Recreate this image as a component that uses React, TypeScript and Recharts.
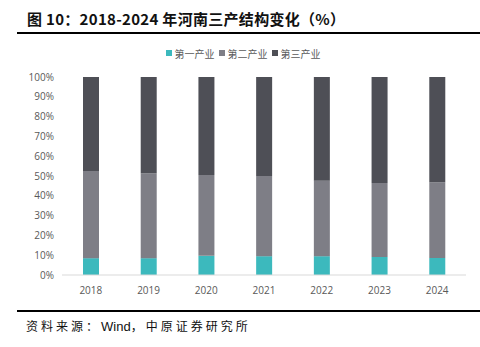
import React from 'react';
import { BarChart, Bar, XAxis, YAxis, Legend } from 'recharts';

const YEARS = ['2018', '2019', '2020', '2021', '2022', '2023', '2024'];
const PRIMARY = [8.5, 8.5, 9.7, 9.5, 9.5, 9.1, 8.6];
const SECONDARY = [44.0, 42.9, 40.8, 40.5, 38.1, 37.4, 38.2];
const TERTIARY = [47.5, 48.6, 49.5, 50.0, 52.4, 53.5, 53.2];
const Y_TICKS = [0, 10, 20, 30, 40, 50, 60, 70, 80, 90, 100];

const SERIES = [
  { key: 'primary', name: '第一产业', color: '#3cb9bd' },
  { key: 'secondary', name: '第二产业', color: '#7e7e86' },
  { key: 'tertiary', name: '第三产业', color: '#4e4f56' },
];

const data = YEARS.map((year, i) => ({
  year,
  primary: PRIMARY[i],
  secondary: SECONDARY[i],
  tertiary: TERTIARY[i],
}));

const tickStyle = { fontSize: 10, fill: '#595959', fontFamily: '"Open Sans", sans-serif' };

function LegendContent() {
  return (
    <div style={{ height: 16, display: 'flex', justifyContent: 'center', alignItems: 'center', gap: 4, paddingLeft: 20 }}>
      {SERIES.map((s) => (
        <span key={s.key} style={{ display: 'flex', alignItems: 'center', fontSize: 10, color: '#595959', fontFamily: '"Noto Sans CJK SC", sans-serif' }}>
          <span style={{ width: 6, height: 6, background: s.color, marginRight: 3, display: 'inline-block' }} />
          {s.name}
        </span>
      ))}
    </div>
  );
}

export default function App() {
  return (
    <div style={{ position: 'absolute', left: 0, top: 0, width: 480, height: 347, background: '#fff', overflow: 'hidden' }}>
      <div style={{ position: 'absolute', left: 27, top: 8, fontSize: 15, fontWeight: 'bold', color: '#111', letterSpacing: 0.3, fontFamily: '"Noto Sans CJK SC", sans-serif', whiteSpace: 'nowrap' }}>
        图 10：2018-2024 年河南三产结构变化（%）
      </div>
      <div style={{ position: 'absolute', left: 17, top: 32, width: 463, height: 2, background: '#000' }} />
      <BarChart width={480} height={347} data={data} margin={{ top: 61, right: 14, left: 0, bottom: 42 }}>
        <Legend verticalAlign="top" content={<LegendContent />} wrapperStyle={{ top: 45 }} />
        <XAxis dataKey="year" tick={tickStyle} tickLine={false} axisLine={{ stroke: '#d9d9d9' }} tickMargin={6} />
        <YAxis domain={[0, 100]} ticks={Y_TICKS} tickFormatter={(v: number) => `${v}%`} tick={tickStyle} tickLine={false} axisLine={false} width={62} />
        {SERIES.map((s) => (
          <Bar key={s.key} dataKey={s.key} name={s.name} stackId="a" fill={s.color} barSize={16} isAnimationActive={false} />
        ))}
      </BarChart>
      <div style={{ position: 'absolute', left: 17, top: 310, width: 463, height: 2, background: '#000' }} />
      <div style={{ position: 'absolute', left: 26, top: 317, fontSize: 12, color: '#111', letterSpacing: 3, fontFamily: '"Noto Sans CJK SC", sans-serif', whiteSpace: 'nowrap' }}>
        资料来源：<span style={{ fontFamily: '"Liberation Sans", Arial, sans-serif', letterSpacing: 0, fontSize: 13 }}>Wind</span>，中原证券研究所
      </div>
    </div>
  );
}
